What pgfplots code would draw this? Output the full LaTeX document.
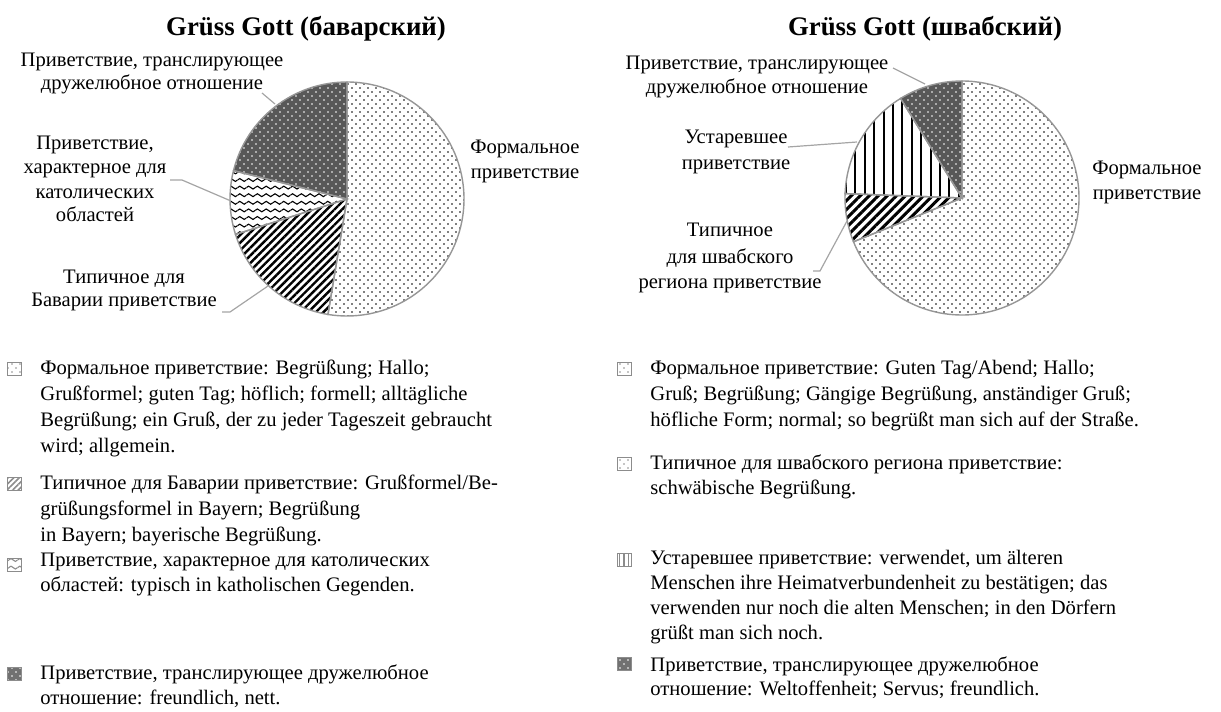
\documentclass[border=0pt]{standalone}
\usepackage{fontspec}
\setmainfont{Liberation Serif}
\usepackage{pgfplots}
\pgfplotsset{compat=1.18}
\usepackage{pgfplotstable}
\usetikzlibrary{patterns,patterns.meta}

\definecolor{edge}{RGB}{150,150,150}
\definecolor{lead}{RGB}{165,165,165}
\definecolor{darkfill}{RGB}{88,88,88}
\definecolor{markgray}{RGB}{140,140,140}

\pgfdeclarepattern{
  name=fdots, type=uncolored,
  bottom left={\pgfpoint{-1pt}{-1pt}}, top right={\pgfpoint{3pt}{3pt}},
  tile size={\pgfpoint{4pt}{4pt}},
  code={\pgfpathcircle{\pgfpoint{0pt}{0pt}}{0.45pt}%
        \pgfpathcircle{\pgfpoint{2pt}{2pt}}{0.45pt}\pgfusepath{fill}}}
\pgfdeclarepattern{
  name=waves, type=uncolored,
  bottom left={\pgfpoint{0pt}{-1.9pt}}, top right={\pgfpoint{4.4pt}{1.9pt}},
  tile size={\pgfpoint{4.4pt}{3.8pt}},
  code={\pgfsetlinewidth{0.55pt}%
    \pgfpathmoveto{\pgfpoint{0pt}{0pt}}%
    \pgfpathcurveto{\pgfpoint{0.6pt}{0.95pt}}{\pgfpoint{1.6pt}{0.95pt}}{\pgfpoint{2.2pt}{0pt}}%
    \pgfpathcurveto{\pgfpoint{2.8pt}{-0.95pt}}{\pgfpoint{3.8pt}{-0.95pt}}{\pgfpoint{4.4pt}{0pt}}%
    \pgfusepath{stroke}}}

\tikzset{
  sformal/.style={fill=white, postaction={pattern=fdots, pattern color=black}},
  sfriendly/.style={fill=darkfill, postaction={pattern=fdots, pattern color=white}},
  sbav/.style={fill=white, postaction={pattern={Lines[angle=45,distance=2.7pt,line width=1.2pt]}, pattern color=black}},
  sswab/.style={fill=white, postaction={pattern={Lines[angle=45,distance=3.2pt,line width=1.5pt]}, pattern color=black}},
  scath/.style={fill=white, postaction={pattern=waves, pattern color=black}},
  sold/.style={fill=white, postaction={pattern={Lines[angle=90,distance=4.7pt,line width=1pt]}, pattern color=black}},
  mformal/.style={fill=white, postaction={pattern=fdots, pattern color=markgray}},
  mfriendly/.style={fill=darkfill!85, postaction={pattern=fdots, pattern color=white}},
  mbav/.style={fill=white, postaction={pattern={Lines[angle=45,distance=2pt,line width=0.8pt]}, pattern color=markgray}},
  mcath/.style={fill=white, postaction={pattern=waves, pattern color=markgray}},
  mold/.style={fill=white, postaction={pattern={Lines[angle=90,distance=2.4pt,line width=0.6pt]}, pattern color=markgray}},
}

\newcommand\R{58.5pt}
\newcommand\pieslice[3]{\path[#3] (axis cs:0,0) -- ++(#1:\R) arc[start angle=#1, end angle=#2, radius=\R] -- cycle;}
\newcommand\lblfont{\fontsize{10.3}{12}\selectfont}
\newcommand\titlefont{\fontsize{13.4}{16}\selectfont\bfseries}
\newcommand\lt[3]{\node[anchor=base, inner sep=0pt, font=\lblfont] at (#1,#2) {#3};}
\newcommand\lw[3]{\node[anchor=base west, inner sep=0pt, font=\lblfont] at (#1,#2) {#3};}
\newcommand\legsq[3]{\path[#3] (#1,#2) rectangle ++(14,13); \draw[markgray, line width=0.4pt] (#1,#2) rectangle ++(14,13);}

% shares in percent
\pgfplotstableread{
slice share
formal 52.6
bavarian 17.5
catholic 8.8
friendly 21.1
}\bavaria
\pgfplotstableread{
slice share
formal 68.9
swabian 6.7
outdated 15.6
friendly 8.8
}\swabia

% cumulative angles (clockwise from 12 o'clock)
\pgfplotstablegetelem{0}{share}\of\bavaria \pgfmathsetmacro\bA{90-3.6*\pgfplotsretval}
\pgfplotstablegetelem{1}{share}\of\bavaria \pgfmathsetmacro\bB{\bA-3.6*\pgfplotsretval}
\pgfplotstablegetelem{2}{share}\of\bavaria \pgfmathsetmacro\bC{\bB-3.6*\pgfplotsretval}
\pgfplotstablegetelem{3}{share}\of\bavaria \pgfmathsetmacro\bD{\bC-3.6*\pgfplotsretval}
\pgfplotstablegetelem{0}{share}\of\swabia \pgfmathsetmacro\sA{90-3.6*\pgfplotsretval}
\pgfplotstablegetelem{1}{share}\of\swabia \pgfmathsetmacro\sB{\sA-3.6*\pgfplotsretval}
\pgfplotstablegetelem{2}{share}\of\swabia \pgfmathsetmacro\sC{\sB-3.6*\pgfplotsretval}
\pgfplotstablegetelem{3}{share}\of\swabia \pgfmathsetmacro\sD{\sC-3.6*\pgfplotsretval}

\begin{document}%
\begin{tikzpicture}

% ---- Bavarian pie
\begin{axis}[at={(173.5pt,-99.5pt)}, anchor=center, hide axis, scale only axis,
  width=120pt, height=120pt, xmin=-120, xmax=120, ymin=-120, ymax=120, clip=false]
\addplot[draw=none, forget plot] coordinates {(0,0)};
\pieslice{90}{\bA}{sformal}
\pieslice{\bA}{\bB}{sbav}
\pieslice{\bB}{\bC}{scath}
\pieslice{\bC}{\bD}{sfriendly}
\pieslice{90}{\bA}{draw=edge, line width=0.7pt}
\pieslice{\bA}{\bB}{draw=edge, line width=0.7pt}
\pieslice{\bB}{\bC}{draw=edge, line width=0.7pt}
\pieslice{\bC}{\bD}{draw=edge, line width=0.7pt}
\end{axis}

% ---- Swabian pie
\begin{axis}[at={(481pt,-99pt)}, anchor=center, hide axis, scale only axis,
  width=120pt, height=120pt, xmin=-120, xmax=120, ymin=-120, ymax=120, clip=false]
\addplot[draw=none, forget plot] coordinates {(0,0)};
\pieslice{90}{\sA}{sformal}
\pieslice{\sA}{\sB}{sswab}
\pieslice{\sB}{\sC}{sold}
\pieslice{\sC}{\sD}{sfriendly}
\pieslice{90}{\sA}{draw=edge, line width=0.7pt}
\pieslice{\sA}{\sB}{draw=edge, line width=0.7pt}
\pieslice{\sB}{\sC}{draw=edge, line width=0.7pt}
\pieslice{\sC}{\sD}{draw=edge, line width=0.7pt}
\end{axis}

\begin{scope}[x=0.5pt,y=-0.5pt]
% titles
\node[anchor=base, inner sep=0pt, font=\titlefont] at (306,35) {Grüss Gott (баварский)};
\node[anchor=base, inner sep=0pt, font=\titlefont] at (925,35) {Grüss Gott (швабский)};

% left pie labels
\lt{525}{153}{Формальное}
\lt{525}{178}{приветствие}
\lt{152}{66}{Приветствие, транслирующее}
\lt{152}{89}{дружелюбное отношение}
\lt{95}{149}{Приветствие,}
\lt{95}{173}{характерное для}
\lt{95}{198}{католических}
\lt{95}{221}{областей}
\lt{124}{283}{Типичное для}
\lt{124}{306}{Баварии приветствие}
\draw[lead, line width=0.6pt] (262,93) -- (275,104);
\draw[lead, line width=0.6pt] (170,180) -- (182,180) -- (231,201);
\draw[lead, line width=0.6pt] (222,312) -- (230,312) -- (268,286);

% right pie labels
\lt{1147}{174}{Формальное}
\lt{1147}{199}{приветствие}
\lt{757}{69}{Приветствие, транслирующее}
\lt{757}{93}{дружелюбное отношение}
\lt{736}{143}{Устаревшее}
\lt{736}{169}{приветствие}
\lt{730}{236}{Типичное}
\lt{730}{263}{для швабского}
\lt{730}{288}{региона приветствие}
\draw[lead, line width=0.6pt] (893,68) -- (925,84);
\draw[lead, line width=0.6pt] (788,147) -- (857,142);
\draw[lead, line width=0.6pt] (813,271) -- (820,271) -- (847,221);

% left legend
\legsq{7}{362}{mformal}
\lw{40}{374}{Формальное приветствие: Begrüßung; Hallo;}
\lw{40}{400}{Grußformel; guten Tag; höflich; formell; alltägliche}
\lw{40}{426}{Begrüßung; ein Gruß, der zu jeder Tageszeit gebraucht}
\lw{40}{452}{wird; allgemein.}
\legsq{7}{477}{mbav}
\lw{40}{489}{Типичное для Баварии приветствие: Grußformel/Be-}
\lw{40}{515}{grüßungsformel in Bayern; Begrüßung}
\lw{40}{541}{in Bayern; bayerische Begrüßung.}
\legsq{7}{558}{mcath}
\lw{40}{566}{Приветствие, характерное для католических}
\lw{40}{591}{областей: typisch in katholischen Gegenden.}
\legsq{7}{667}{mfriendly}
\lw{40}{679}{Приветствие, транслирующее дружелюбное}
\lw{40}{704}{отношение: freundlich, nett.}

% right legend
\legsq{617}{362}{mformal}
\lw{650}{374}{Формальное приветствие: Guten Tag/Abend; Hallo;}
\lw{650}{400}{Gruß; Begrüßung; Gängige Begrüßung, anständiger Gruß;}
\lw{650}{426}{höfliche Form; normal; so begrüßt man sich auf der Straße.}
\legsq{617}{457}{mformal}
\lw{650}{469}{Типичное для швабского региона приветствие:}
\lw{650}{494}{schwäbische Begrüßung.}
\legsq{617}{553}{mold}
\lw{650}{564}{Устаревшее приветствие: verwendet, um älteren}
\lw{650}{589}{Menschen ihre Heimatverbundenheit zu bestätigen; das}
\lw{650}{614}{verwenden nur noch die alten Menschen; in den Dörfern}
\lw{650}{639}{grüßt man sich noch.}
\legsq{617}{657}{mfriendly}
\lw{650}{671}{Приветствие, транслирующее дружелюбное}
\lw{650}{695}{отношение: Weltoffenheit; Servus; freundlich.}
\end{scope}

\pgfresetboundingbox
\useasboundingbox (0pt,0pt) rectangle (610.5pt,-356pt);
\end{tikzpicture}%
\end{document}
